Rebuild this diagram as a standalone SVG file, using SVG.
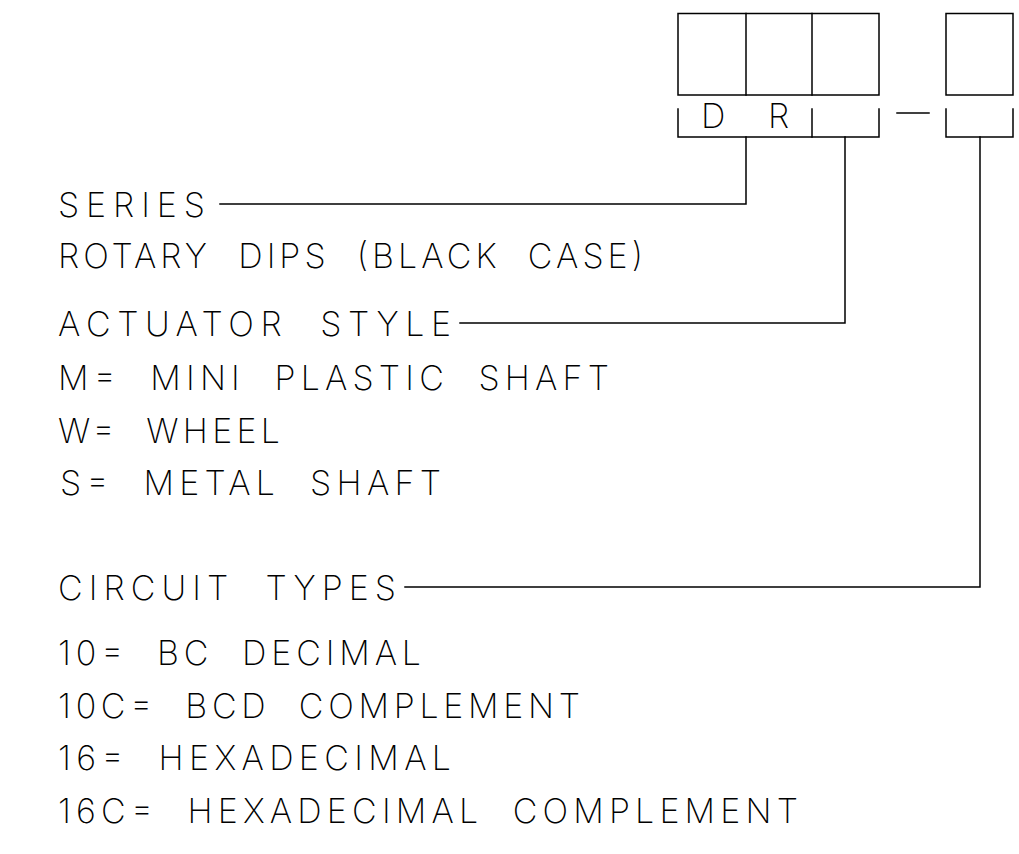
<svg xmlns="http://www.w3.org/2000/svg" width="1019" height="854" viewBox="0 0 1019 854">
<style>
.ln{fill:none;stroke:#000;stroke-width:1.5;stroke-linecap:square}
.t{font-family:"Inter","Roboto","DejaVu Sans",sans-serif;font-weight:200;font-size:34px;fill:#000}
</style>
<rect width="1019" height="854" fill="#fff"/>
<g id="code-boxes">
<rect class="ln" x="678" y="13.5" width="201" height="81.5"/>
<line class="ln" x1="746" y1="13.5" x2="746" y2="95"/>
<line class="ln" x1="812" y1="13.5" x2="812" y2="95"/>
<rect class="ln" x="946" y="13.5" width="67" height="81.5"/>
</g>
<g id="bracket-main">
<polyline class="ln" points="678,109 678,137 879,137 879,109"/>
<line class="ln" x1="812" y1="109" x2="812" y2="137"/>
<text class="t" x="701" y="128">D</text>
<text class="t" x="768" y="128">R</text>
</g>
<g id="dash"><line class="ln" x1="897" y1="113" x2="929" y2="113"/></g>
<g id="bracket-circuit">
<polyline class="ln" points="946,109 946,137 1013,137 1013,109"/>
</g>
<g id="connectors">
<polyline class="ln" points="220,204 746,204 746,137"/>
<polyline class="ln" points="460,323 845,323 845,137"/>
<polyline class="ln" points="405,587 980,587 980,137"/>
</g>
<g id="series">
<text class="t" x="58" y="217" textLength="147" lengthAdjust="spacing">SERIES</text>
<text class="t" x="58" y="268" textLength="585" lengthAdjust="spacing" xml:space="preserve">ROTARY  DIPS  (BLACK  CASE)</text>
</g>
<g id="actuator">
<text class="t" x="58" y="336" textLength="393" lengthAdjust="spacing" xml:space="preserve">ACTUATOR  STYLE</text>
<text class="t" x="58" y="390" textLength="551" lengthAdjust="spacing" xml:space="preserve">M=  MINI  PLASTIC  SHAFT</text>
<text class="t" x="58" y="443" textLength="222" lengthAdjust="spacing" xml:space="preserve">W=  WHEEL</text>
<text class="t" x="60" y="495" textLength="381" lengthAdjust="spacing" xml:space="preserve">S=  METAL  SHAFT</text>
</g>
<g id="circuit">
<text class="t" x="58" y="600" textLength="338" lengthAdjust="spacing" xml:space="preserve">CIRCUIT  TYPES</text>
<text class="t" x="58" y="665" textLength="363" lengthAdjust="spacing" xml:space="preserve">10=  BC  DECIMAL</text>
<text class="t" x="58" y="718" textLength="522" lengthAdjust="spacing" xml:space="preserve">10C=  BCD  COMPLEMENT</text>
<text class="t" x="58" y="770" textLength="393" lengthAdjust="spacing" xml:space="preserve">16=  HEXADECIMAL</text>
<text class="t" x="58" y="823" textLength="740" lengthAdjust="spacing" xml:space="preserve">16C=  HEXADECIMAL  COMPLEMENT</text>
</g>
</svg>
